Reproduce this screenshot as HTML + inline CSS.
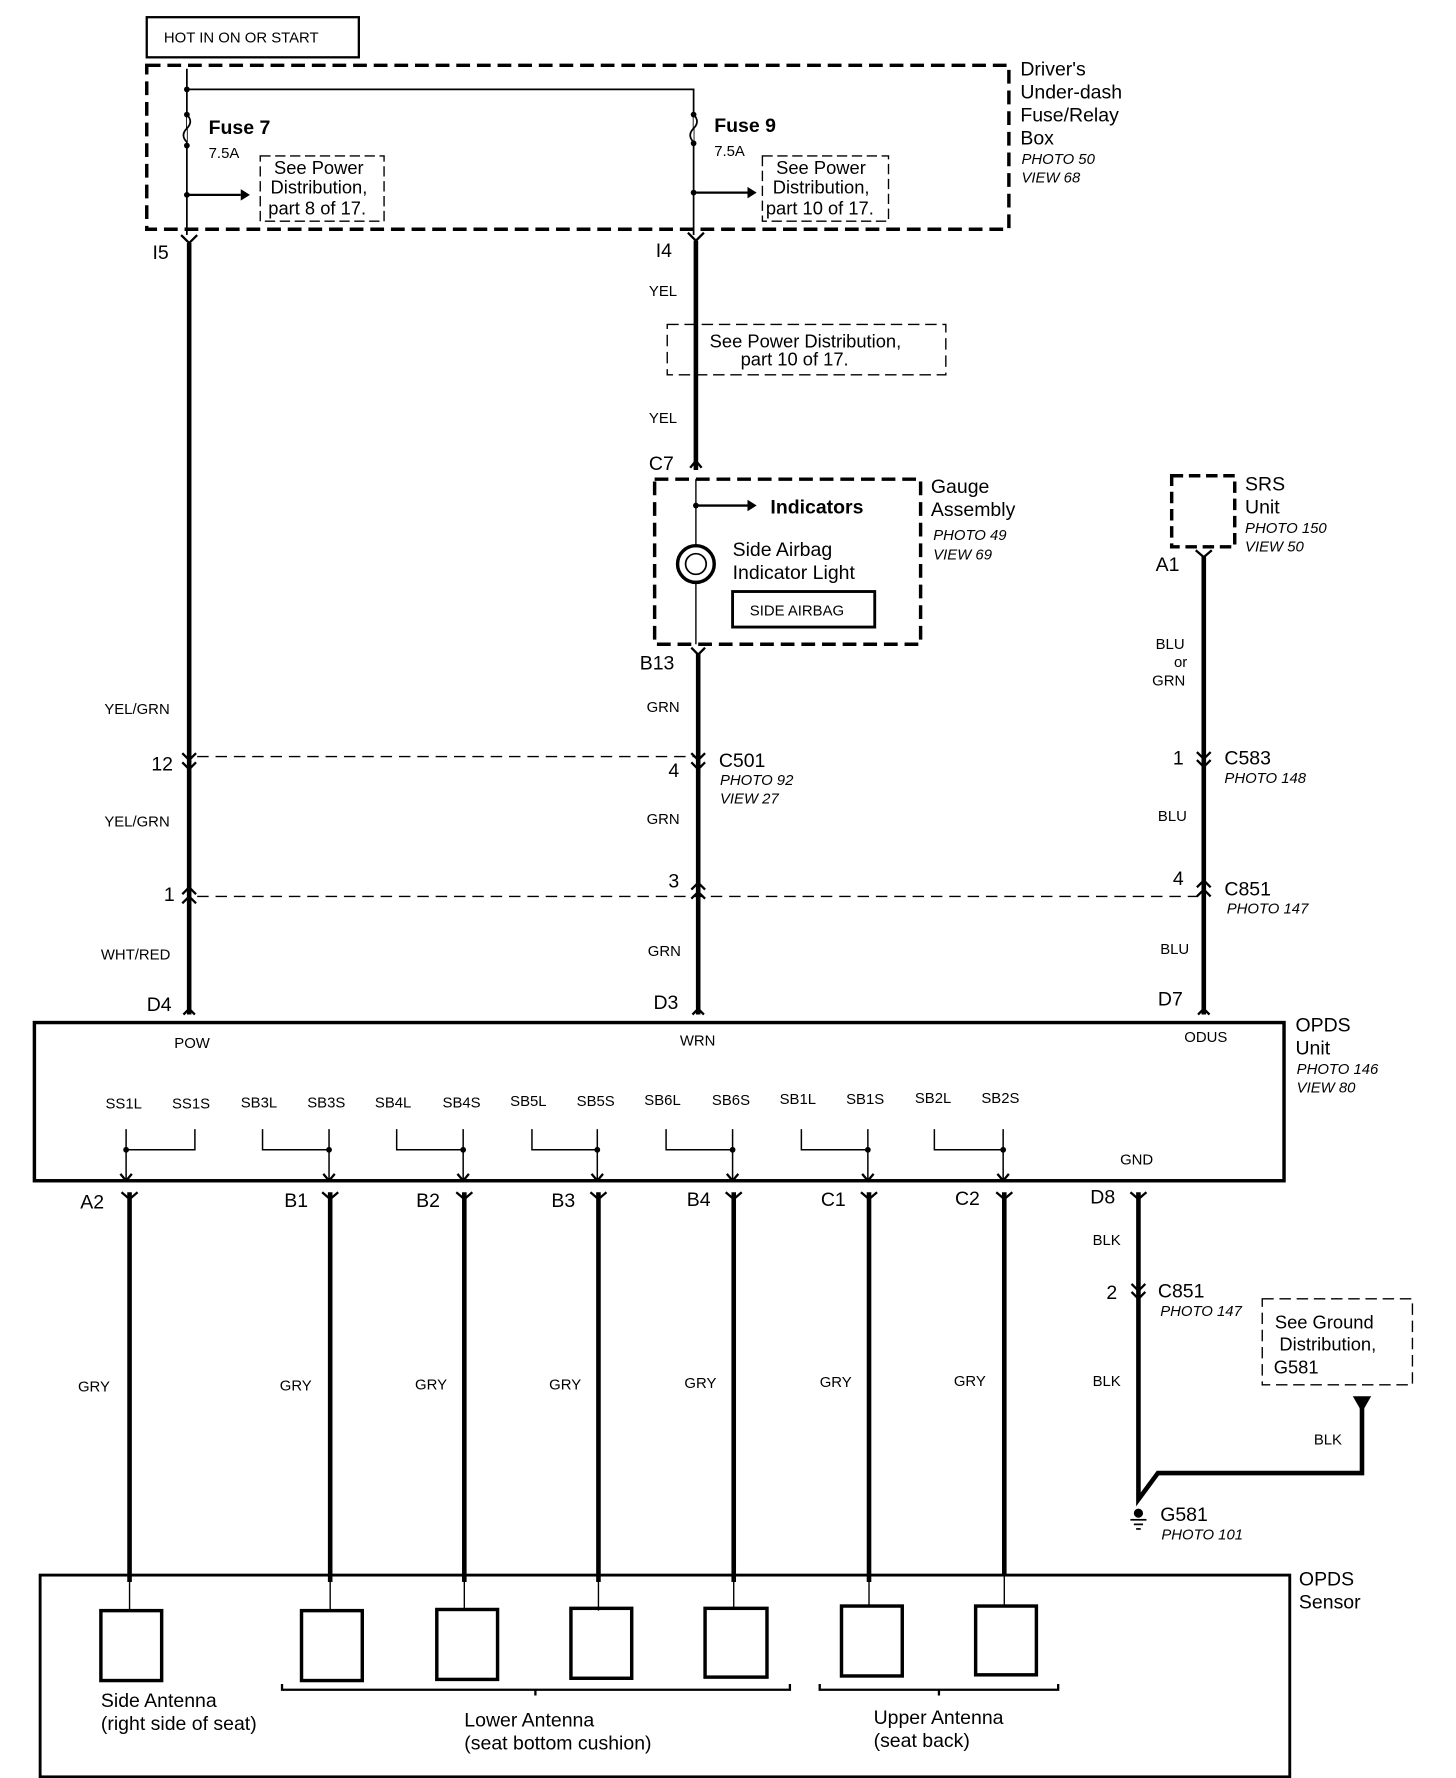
<!DOCTYPE html>
<html><head><meta charset="utf-8"><style>
html,body{margin:0;padding:0;background:#fff}
svg{display:block}
text{font-family:"Liberation Sans",sans-serif;fill:#000}
.b{font-weight:bold}
.i{font-style:italic;font-size:13px}
.s{font-size:13px}
.m{font-size:17px}
</style></head><body>
<svg width="1456" height="1778" viewBox="0 0 1270 1551" preserveAspectRatio="none" xmlns="http://www.w3.org/2000/svg">
<g fill="none" stroke="#000">
<!-- HOT box -->
<rect x="128" y="15" width="185" height="35" stroke-width="2"/>
<!-- fuse box dashed -->
<path d="M128 57 H880 V200 H128 Z" stroke-width="3" stroke-dasharray="12 6"/>
<path d="M163 60 V205 M163 78 H605 V205" stroke-width="1.5"/>
<path d="M163 100 q6 6 0 12 q-6 6 0 12" stroke-width="1.5" fill="#fff"/>
<path d="M605 100 q6 6 0 12 q-6 6 0 12" stroke-width="1.5" fill="#fff"/>
<path d="M163 170 H210 M605 168 H652" stroke-width="2"/>
<path d="M227 136 H335 V193 H227 Z" stroke-width="1.2" stroke-dasharray="9 4"/>
<path d="M665 136 H775 V193 H665 Z" stroke-width="1.2" stroke-dasharray="9 4"/>
<!-- main wires -->
<path d="M165 212 V885" stroke-width="4"/>
<path d="M607 210 V410" stroke-width="4"/>
<path d="M609 570 V885" stroke-width="4"/>
<path d="M1050 485 V885" stroke-width="4"/>
<path d="M607 418 V562" stroke-width="1.2"/>
<path d="M582 283 H825 V327 H582 Z" stroke-width="1.2" stroke-dasharray="10 5"/>
<path d="M571 418 H803 V562 H571 Z" stroke-width="3" stroke-dasharray="12 6"/>
<path d="M607 441 H652" stroke-width="2"/>
<circle cx="607" cy="492" r="16" stroke-width="3" fill="#fff"/>
<circle cx="607" cy="492" r="9" stroke-width="1.5"/>
<rect x="639" y="516" width="124" height="31" stroke-width="2.5"/>
<path d="M1022 415 H1077 V477 H1022 Z" stroke-width="3" stroke-dasharray="10 5"/>
<path d="M172 660 H605 M172 782 H1045" stroke-width="1.2" stroke-dasharray="10 6"/>
<!-- OPDS unit -->
<rect x="30" y="892" width="1090" height="138" stroke-width="3"/>
<path d="M110 985 V1030 M110 1003 H170 V985 M229 985 V1003 H287 M287 985 V1030 M346 985 V1003 H404 M404 985 V1030 M464 985 V1003 H521 M521 985 V1030 M581 985 V1003 H639 M639 985 V1030 M699 985 V1003 H757 M757 985 V1030 M815 985 V1003 H875 M875 985 V1030" stroke-width="1.3"/>
<!-- lower wires -->
<path d="M113 1040 V1380 M288 1040 V1380 M405 1040 V1380 M522 1040 V1380 M640 1040 V1380 M758 1040 V1380 M876 1040 V1375 M993 1040 V1308 L1010 1285 H1188 V1222" stroke-width="4"/>
<path d="M1101 1133 H1232 V1208 H1101 Z" stroke-width="1.2" stroke-dasharray="10 5"/>
<!-- sensor -->
<rect x="35" y="1374" width="1090" height="176" stroke-width="2.5"/>
<path d="M113 1380 V1405 M288 1380 V1405 M405 1380 V1405 M522 1380 V1405 M640 1380 V1402 M758 1380 V1400 M876 1375 V1400" stroke-width="1.2"/>
<g stroke-width="3">
<rect x="88" y="1405" width="53" height="61"/><rect x="263" y="1405" width="53" height="61"/><rect x="381" y="1404" width="53" height="61"/><rect x="498" y="1403" width="53" height="61"/><rect x="615" y="1403" width="54" height="60"/><rect x="734" y="1401" width="53" height="61"/><rect x="851" y="1401" width="53" height="60"/>
</g>
<path d="M246 1469 V1474 H689 V1469 M467 1474 V1479 M715 1469 V1474 H923 V1469 M819 1474 V1479" stroke-width="2"/>
<!-- connectors -->
<g stroke-width="2">
<path d="M158 205 L165 212 L172 205 M600 203 L607 210 L614 203 M602 408 L607 402 L612 408 M603 565 L609 571 L615 565 M1043 480 L1050 486 L1057 480"/>
<path d="M159 657 L165 663 L171 657 M159 665 L165 671 L171 665 M603 657 L609 663 L615 657 M603 665 L609 671 L615 665 M1044 656 L1050 662 L1056 656 M1044 663 L1050 669 L1056 663"/>
<path d="M159 780 L165 774 L171 780 M159 788 L165 782 L171 788 M603 776 L609 770 L615 776 M603 784 L609 778 L615 784 M1044 774 L1050 768 L1056 774 M1044 782 L1050 776 L1056 782"/>
<path d="M160 885 L165 880 L170 885 M604 885 L609 880 L614 885 M1045 885 L1050 880 L1055 885"/>
<path d="M106 1040 L113 1046 L120 1040 M281 1040 L288 1046 L295 1040 M398 1040 L405 1046 L412 1040 M515 1040 L522 1046 L529 1040 M633 1040 L640 1046 L647 1040 M751 1040 L758 1046 L765 1040 M869 1040 L876 1046 L883 1040 M986 1040 L993 1046 L1000 1040 M987 1120 L993 1126 L999 1120 M987 1127 L993 1133 L999 1127"/>
<path d="M105 1024 L110 1030 L115 1024 M282 1024 L287 1030 L292 1024 M399 1024 L404 1030 L409 1024 M516 1024 L521 1030 L526 1024 M634 1024 L639 1030 L644 1024 M752 1024 L757 1030 L762 1024 M870 1024 L875 1030 L880 1024"/>
</g>
</g>
<g fill="#000">
<path d="M210 165 L218 170 L210 175 Z M652 163 L660 168 L652 173 Z M652 436 L660 441 L652 446 Z M1180 1218 L1188 1232 L1196 1218 Z"/>
<circle cx="163" cy="78" r="2.5"/><circle cx="163" cy="100" r="2.5"/><circle cx="163" cy="127" r="2.5"/><circle cx="163" cy="170" r="2.5"/><circle cx="605" cy="100" r="2.5"/><circle cx="605" cy="125" r="2.5"/><circle cx="605" cy="168" r="2.5"/><circle cx="607" cy="441" r="2.5"/>
<circle cx="110" cy="1003" r="2.5"/><circle cx="287" cy="1003" r="2.5"/><circle cx="404" cy="1003" r="2.5"/><circle cx="521" cy="1003" r="2.5"/><circle cx="639" cy="1003" r="2.5"/><circle cx="757" cy="1003" r="2.5"/><circle cx="875" cy="1003" r="2.5"/>
<circle cx="993" cy="1320" r="4"/>
<rect x="986" y="1325" width="14" height="1.5"/><rect x="989" y="1329" width="8" height="1.5"/><rect x="991" y="1333" width="4" height="1.5"/>
</g>
<text x="143" y="37" class="s">HOT IN ON OR START</text>
<text x="890" y="66" class="m">Driver's</text><text x="890" y="86" class="m">Under-dash</text><text x="890" y="106" class="m">Fuse/Relay</text><text x="890" y="126" class="m">Box</text>
<text x="891" y="143" class="i">PHOTO 50</text><text x="891" y="159" class="i">VIEW 68</text>
<text x="182" y="117" class="m b">Fuse 7</text><text x="182" y="138" class="s">7.5A</text>
<text x="623" y="115" class="m b">Fuse 9</text><text x="623" y="136" class="s">7.5A</text>
<g class="m" font-size="16"><text x="239" y="152" font-size="16">See Power</text><text x="236" y="169" font-size="16">Distribution,</text><text x="234" y="187" font-size="16">part 8 of 17.</text>
<text x="677" y="152" font-size="16">See Power</text><text x="674" y="169" font-size="16">Distribution,</text><text x="668" y="187" font-size="16">part 10 of 17.</text>
<text x="619" y="303" font-size="16">See Power Distribution,</text><text x="646" y="319" font-size="16">part 10 of 17.</text></g>
<text x="133" y="226" class="m">I5</text><text x="572" y="224" class="m">I4</text>
<text x="566" y="258" class="s">YEL</text><text x="566" y="369" class="s">YEL</text>
<text x="566" y="410" class="m">C7</text>
<text x="812" y="430" class="m">Gauge</text><text x="812" y="450" class="m">Assembly</text>
<text x="814" y="471" class="i">PHOTO 49</text><text x="814" y="488" class="i">VIEW 69</text>
<text x="672" y="448" class="m b">Indicators</text>
<text x="639" y="485" class="m">Side Airbag</text><text x="639" y="505" class="m">Indicator Light</text>
<text x="654" y="537" class="s">SIDE AIRBAG</text>
<text x="1086" y="428" class="m">SRS</text><text x="1086" y="448" class="m">Unit</text>
<text x="1086" y="465" class="i">PHOTO 150</text><text x="1086" y="481" class="i">VIEW 50</text>
<text x="1008" y="498" class="m">A1</text>
<text x="558" y="584" class="m">B13</text>
<text x="91" y="623" class="s">YEL/GRN</text><text x="564" y="621" class="s">GRN</text>
<text x="1008" y="566" class="s">BLU</text><text x="1024" y="582" class="s">or</text><text x="1005" y="598" class="s">GRN</text>
<text x="132" y="672" class="m">12</text><text x="583" y="678" class="m">4</text>
<text x="627" y="669" class="m">C501</text><text x="628" y="685" class="i">PHOTO 92</text><text x="628" y="701" class="i">VIEW 27</text>
<text x="1023" y="667" class="m">1</text><text x="1068" y="667" class="m">C583</text><text x="1068" y="683" class="i">PHOTO 148</text>
<text x="91" y="721" class="s">YEL/GRN</text><text x="564" y="719" class="s">GRN</text><text x="1010" y="716" class="s">BLU</text>
<text x="143" y="786" class="m">1</text><text x="583" y="774" class="m">3</text><text x="1023" y="772" class="m">4</text>
<text x="1068" y="781" class="m">C851</text><text x="1070" y="797" class="i">PHOTO 147</text>
<text x="88" y="837" class="s">WHT/RED</text><text x="565" y="834" class="s">GRN</text><text x="1012" y="832" class="s">BLU</text>
<text x="128" y="882" class="m">D4</text><text x="570" y="880" class="m">D3</text><text x="1010" y="877" class="m">D7</text>
<text x="1130" y="900" class="m">OPDS</text><text x="1130" y="920" class="m">Unit</text>
<text x="1131" y="937" class="i">PHOTO 146</text><text x="1131" y="953" class="i">VIEW 80</text>
<text x="152" y="914" class="s">POW</text><text x="593" y="912" class="s">WRN</text><text x="1033" y="909" class="s">ODUS</text>
<g class="s"><text x="92" y="967">SS1L</text><text x="150" y="967">SS1S</text><text x="210" y="966">SB3L</text><text x="268" y="966">SB3S</text><text x="327" y="966">SB4L</text><text x="386" y="966">SB4S</text><text x="445" y="965">SB5L</text><text x="503" y="965">SB5S</text><text x="562" y="964">SB6L</text><text x="621" y="964">SB6S</text><text x="680" y="963">SB1L</text><text x="738" y="963">SB1S</text><text x="798" y="962">SB2L</text><text x="856" y="962">SB2S</text>
<text x="977" y="1016">GND</text></g>
<g class="m"><text x="70" y="1054">A2</text><text x="248" y="1053">B1</text><text x="363" y="1053">B2</text><text x="481" y="1053">B3</text><text x="599" y="1052">B4</text><text x="716" y="1052">C1</text><text x="833" y="1051">C2</text><text x="951" y="1050">D8</text></g>
<g class="s"><text x="68" y="1214">GRY</text><text x="244" y="1213">GRY</text><text x="362" y="1212">GRY</text><text x="479" y="1212">GRY</text><text x="597" y="1211">GRY</text><text x="715" y="1210">GRY</text><text x="832" y="1209">GRY</text>
<text x="953" y="1086">BLK</text><text x="953" y="1209">BLK</text><text x="1146" y="1260">BLK</text></g>
<text x="965" y="1133" class="m">2</text><text x="1010" y="1132" class="m">C851</text><text x="1012" y="1148" class="i">PHOTO 147</text>
<text x="1112" y="1159" font-size="16">See Ground</text><text x="1116" y="1178" font-size="16">Distribution,</text><text x="1111" y="1198" font-size="16">G581</text>
<text x="1012" y="1327" class="m">G581</text><text x="1013" y="1343" class="i">PHOTO 101</text>
<text x="1133" y="1383" class="m">OPDS</text><text x="1133" y="1403" class="m">Sensor</text>
<g class="m"><text x="88" y="1489">Side Antenna</text><text x="88" y="1509">(right side of seat)</text>
<text x="405" y="1506">Lower Antenna</text><text x="405" y="1526">(seat bottom cushion)</text>
<text x="762" y="1504">Upper Antenna</text><text x="762" y="1524">(seat back)</text></g>
</svg>
</body></html>
